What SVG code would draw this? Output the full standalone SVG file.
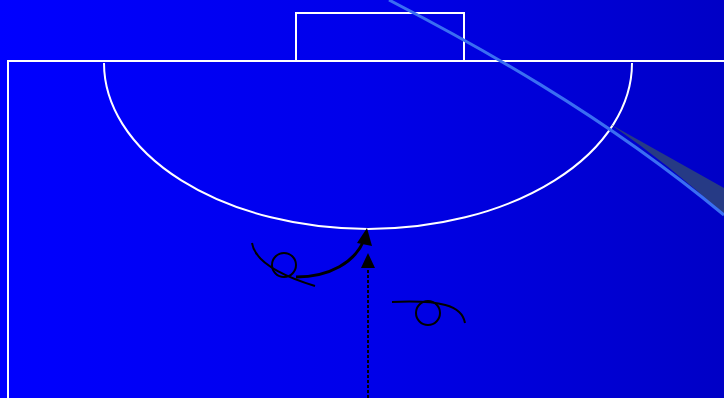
<svg xmlns="http://www.w3.org/2000/svg" width="724" height="398" viewBox="0 0 724 398">
<defs>
<linearGradient id="bg" x1="0" y1="0" x2="1" y2="0">
<stop offset="0" stop-color="#0000FF"/>
<stop offset="0.5" stop-color="#0000EA"/>
<stop offset="1" stop-color="#0000C6"/>
</linearGradient>
<marker id="ah" viewBox="0 0 10 10" refX="9" refY="5" markerWidth="5.5" markerHeight="5.5" orient="auto" markerUnits="strokeWidth">
<path d="M0,0 L10,5 L0,10 Z" fill="#000"/>
</marker>
</defs>
<style>
.w{fill:none;stroke:#fff;stroke-width:2}
.p{fill:none;stroke:#000;stroke-width:2}
.a{fill:none;stroke:#000;stroke-width:3}
</style>
<rect width="724" height="398" fill="url(#bg)"/>
<g id="field">
<path class="w" d="M8,398 V61 H724"/>
<rect class="w" x="296" y="13" width="168" height="48"/>
<path class="w" d="M104,63 A264,166 0 0 0 632,63"/>
</g>
<g id="beam">
<path d="M610,124 L724,188 L724,215 Q670,165 610,124 Z" fill="#263a85"/>
<path d="M389,0 C470,42 600,112 724,215" fill="none" stroke="#3a6ef2" stroke-width="3"/>
</g>
<g id="player1">
<circle class="p" cx="284" cy="265" r="12"/>
<path class="p" d="M252,243 Q256,268 315,286"/>
</g>
<g id="player2">
<circle class="p" cx="428" cy="313" r="12"/>
<path class="p" d="M392,302 C440,300 462,305 465,323"/>
</g>
<g id="connectors">
<path class="a" d="M296,277 C330,277 355,262 364,240"/>
<path d="M367,228 L372,246 L357,243 Z" fill="#000"/>
<path d="M368,398 V268" fill="none" stroke="#000" stroke-width="2" stroke-dasharray="3,2"/>
<path d="M368,253 L375,268 L361,268 Z" fill="#000"/>
</g>
</svg>
